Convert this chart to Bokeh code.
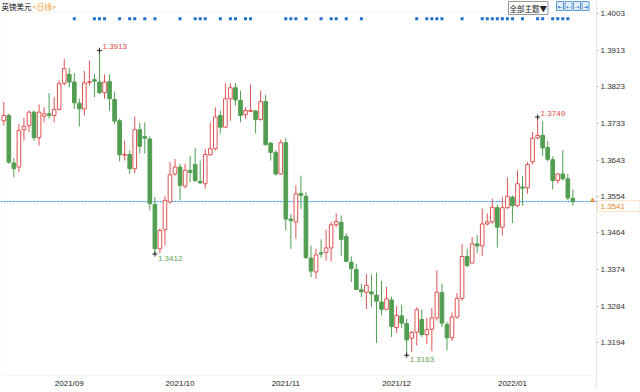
from bokeh.plotting import figure
from bokeh.models import (Range1d, FixedTicker, Label, ColumnDataSource, Span,
                          NumeralTickFormatter, BoxAnnotation)
from bokeh.embed import file_html
from bokeh.resources import INLINE

# ---- data (GBP/USD daily, 2021-08-18 .. 2022-01-24) ----
opens = [1.3740, 1.3753, 1.3636, 1.3626, 1.3718, 1.3728, 1.3761, 1.3698, 1.3751, 1.3757,
         1.3753, 1.3768, 1.3832, 1.3854, 1.3835, 1.3783, 1.3769, 1.3834, 1.3841, 1.3835,
         1.3809, 1.3836, 1.3792, 1.3740, 1.3655, 1.3657, 1.3622, 1.3718, 1.3701, 1.3695,
         1.3534, 1.3425, 1.3472, 1.3540, 1.3609, 1.3626, 1.3579, 1.3618, 1.3632, 1.3591,
         1.3585, 1.3656, 1.3671, 1.3753, 1.3724, 1.3794, 1.3821, 1.3790, 1.3755, 1.3763,
         1.3764, 1.3743, 1.3787, 1.3685, 1.3662, 1.3609, 1.3686, 1.3498, 1.3491, 1.3561,
         1.3554, 1.3402, 1.3368, 1.3415, 1.3416, 1.3427, 1.3484, 1.3490, 1.3455, 1.3392,
         1.3374, 1.3324, 1.3318, 1.3319, 1.3311, 1.3294, 1.3276, 1.3299, 1.3231, 1.3260,
         1.3241, 1.3205, 1.3220, 1.3251, 1.3214, 1.3227, 1.3255, 1.3317, 1.3239, 1.3206,
         1.3257, 1.3303, 1.3406, 1.3390, 1.3437, 1.3432, 1.3486, 1.3491, 1.3526, 1.3478,
         1.3526, 1.3552, 1.3531, 1.3577, 1.3575, 1.3639, 1.3698, 1.3704, 1.3674, 1.3644,
         1.3593, 1.3609, 1.3597, 1.3549]
highs = [1.3786, 1.3757, 1.3648, 1.3732, 1.3747, 1.3765, 1.3765, 1.3780, 1.3773, 1.3808,
         1.3798, 1.3839, 1.3892, 1.3870, 1.3857, 1.3794, 1.3862, 1.3888, 1.3855, 1.3913,
         1.3854, 1.3854, 1.3812, 1.3745, 1.3691, 1.3667, 1.3750, 1.3734, 1.3736, 1.3701,
         1.3552, 1.3475, 1.3554, 1.3638, 1.3646, 1.3634, 1.3634, 1.3654, 1.3673, 1.3642,
         1.3671, 1.3736, 1.3773, 1.3765, 1.3832, 1.3832, 1.3832, 1.3814, 1.3773, 1.3829,
         1.3766, 1.3814, 1.3804, 1.3687, 1.3668, 1.3693, 1.3698, 1.3510, 1.3581, 1.3605,
         1.3564, 1.3433, 1.3425, 1.3448, 1.3472, 1.3491, 1.3512, 1.3507, 1.3463, 1.3406,
         1.3388, 1.3339, 1.3363, 1.3361, 1.3366, 1.3346, 1.3331, 1.3307, 1.3284, 1.3287,
         1.3253, 1.3223, 1.3281, 1.3275, 1.3255, 1.3279, 1.3372, 1.3339, 1.3245, 1.3268,
         1.3316, 1.3437, 1.3425, 1.3454, 1.3459, 1.3524, 1.3512, 1.3548, 1.3534, 1.3552,
         1.3600, 1.3556, 1.3618, 1.3603, 1.3638, 1.3712, 1.3749, 1.3740, 1.3690, 1.3652,
         1.3611, 1.3667, 1.3609, 1.3571]
lows = [1.3728, 1.3634, 1.3601, 1.3613, 1.3691, 1.3712, 1.3691, 1.3679, 1.3736, 1.3745,
        1.3736, 1.3765, 1.3827, 1.3822, 1.3769, 1.3726, 1.3753, 1.3827, 1.3798, 1.3806,
        1.3794, 1.3765, 1.3732, 1.3640, 1.3642, 1.3609, 1.3611, 1.3659, 1.3659, 1.3519,
        1.3412, 1.3414, 1.3433, 1.3536, 1.3605, 1.3544, 1.3573, 1.3589, 1.3589, 1.3585,
        1.3573, 1.3654, 1.3667, 1.3709, 1.3723, 1.3740, 1.3777, 1.3736, 1.3745, 1.3761,
        1.3709, 1.3740, 1.3679, 1.3642, 1.3605, 1.3607, 1.3470, 1.3425, 1.3450, 1.3523,
        1.3400, 1.3355, 1.3351, 1.3403, 1.3396, 1.3394, 1.3478, 1.3408, 1.3392, 1.3343,
        1.3324, 1.3306, 1.3277, 1.3282, 1.3193, 1.3261, 1.3274, 1.3208, 1.3218, 1.3230,
        1.3163, 1.3171, 1.3187, 1.3208, 1.3191, 1.3173, 1.3248, 1.3232, 1.3175, 1.3198,
        1.3253, 1.3297, 1.3379, 1.3389, 1.3415, 1.3408, 1.3482, 1.3487, 1.3428, 1.3458,
        1.3523, 1.3488, 1.3527, 1.3531, 1.3561, 1.3632, 1.3695, 1.3654, 1.3640, 1.3571,
        1.3586, 1.3593, 1.3544, 1.3531]
closes = [1.3753, 1.3638, 1.3622, 1.3716, 1.3726, 1.3761, 1.3698, 1.3761, 1.3757, 1.3753,
          1.3768, 1.3831, 1.3868, 1.3835, 1.3784, 1.3769, 1.3833, 1.3836, 1.3837, 1.3809,
          1.3835, 1.3794, 1.3739, 1.3656, 1.3657, 1.3622, 1.3718, 1.3677, 1.3697, 1.3536,
          1.3425, 1.3470, 1.3544, 1.3607, 1.3626, 1.3581, 1.3618, 1.3613, 1.3593, 1.3587,
          1.3657, 1.3671, 1.3749, 1.3724, 1.3794, 1.3821, 1.3791, 1.3753, 1.3765, 1.3765,
          1.3743, 1.3787, 1.3681, 1.3662, 1.3609, 1.3686, 1.3498, 1.3494, 1.3560, 1.3556,
          1.3403, 1.3370, 1.3410, 1.3412, 1.3427, 1.3484, 1.3492, 1.3448, 1.3394, 1.3376,
          1.3325, 1.3319, 1.3335, 1.3314, 1.3296, 1.3276, 1.3302, 1.3234, 1.3261, 1.3242,
          1.3201, 1.3219, 1.3275, 1.3214, 1.3226, 1.3255, 1.3318, 1.3242, 1.3206, 1.3257,
          1.3303, 1.3406, 1.3384, 1.3437, 1.3432, 1.3486, 1.3491, 1.3527, 1.3478, 1.3526,
          1.3554, 1.3531, 1.3585, 1.3574, 1.3632, 1.3697, 1.3704, 1.3673, 1.3645, 1.3593,
          1.3609, 1.3597, 1.3550, 1.3541]

month_idx = [10, 32, 53, 75, 98]
month_labels = ["2021/09", "2021/10", "2021/11", "2021/12", "2022/01"]
price_ticks = [1.4003, 1.3913, 1.3823, 1.3733, 1.3643, 1.3554, 1.3464, 1.3374, 1.3284, 1.3194]
signal_idx = [14, 18, 19, 20, 23, 25, 26, 28, 30, 35, 38, 39, 40, 43, 45, 46, 48, 49,
              56, 57, 58, 60, 63, 65, 66, 68, 71, 82, 84, 85, 86, 87, 91, 95, 96, 97,
              98, 99, 100, 101, 103, 106, 107, 109, 110, 111, 112]
signal_level = 1.3991
mark_high_idx = [19, 106]
mark_low_idx = [30, 80]

UP = "#e25252"
DOWN = "#519e51"
FONT = "Liberation Sans"

n = len(closes)
xs = list(range(n))
inc = [c >= o for o, c in zip(opens, closes)]

def subset(mask):
    return ColumnDataSource(dict(
        x=[x for x, m in zip(xs, mask) if m],
        top=[max(o, c) for o, c, m in zip(opens, closes, mask) if m],
        bottom=[min(o, c) for o, c, m in zip(opens, closes, mask) if m],
        high=[h for h, m in zip(highs, mask) if m],
        low=[l for l, m in zip(lows, mask) if m],
    ))

src_up = subset(inc)
src_dn = subset([not v for v in inc])

# whole canvas is the frame; axes are pinned inside it
x_start, x_end = -0.655, 126.43
y_top, y_bot = 1.40357, 1.30714
x_axis_pos = 117.69          # right edge of the price area
y_area_top, y_area_bot = 1.40062, 1.31132
px_x, px_y = 1 / 5.036, 0.000246   # one pixel in data units

p = figure(width=640, height=392, output_backend="svg", toolbar_location=None,
           x_range=Range1d(x_start, x_end), y_range=Range1d(y_bot, y_top),
           y_axis_location="right", min_border=0, background_fill_color="white",
           border_fill_color="white")
p.title.visible = False
p.outline_line_color = None
p.xgrid.visible = False
p.ygrid.visible = False

# price-area border
p.add_layout(BoxAnnotation(left=x_start, right=x_axis_pos, top=y_area_top, bottom=y_area_bot,
                           fill_color=None, line_color="#e3e3e3", line_width=1))

# current price line (under the candles)
last = closes[-1]
p.add_layout(Span(location=last, dimension="width", line_color="#1e90ff",
                  line_dash="2 1", line_width=1, level="underlay"))

# candles
p.segment(x0="x", y0="high", x1="x", y1="low", source=src_up, line_color=UP, line_width=1)
p.segment(x0="x", y0="high", x1="x", y1="low", source=src_dn, line_color=DOWN, line_width=1)
p.vbar(x="x", top="top", bottom="bottom", width=0.72, source=src_up,
       fill_color="white", line_color=UP, line_width=1)
p.vbar(x="x", top="top", bottom="bottom", width=0.72, source=src_dn,
       fill_color=DOWN, line_color=DOWN, line_width=1)

# signal dots
p.scatter(x=signal_idx, y=[signal_level] * len(signal_idx), marker="square", size=3,
          fill_color="#1f6fcf", line_color=None)

# extreme marks
hx = mark_high_idx
hy = [highs[i] for i in hx]
lx = mark_low_idx
ly = [lows[i] for i in lx]
p.scatter(x=hx + lx, y=hy + ly, marker="cross", size=5, line_color="#222222", line_width=1)
p.text(x=hx, y=hy, text=[f"{v:.4f}" for v in hy], x_offset=3, y_offset=-1,
       text_baseline="bottom", text_align="left", text_color="#e2463f",
       text_font_size="8px", text_font={"value": FONT})
p.text(x=lx, y=ly, text=[f"{v:.4f}" for v in ly], x_offset=3, y_offset=2,
       text_baseline="top", text_align="left", text_color="#5f9f50",
       text_font_size="8px", text_font={"value": FONT})

# axes (pinned at the price-area edges)
ya = p.yaxis[0]
ya.fixed_location = x_axis_pos
ya.bounds = (1.3083, 1.4039)
ya.ticker = FixedTicker(ticks=price_ticks)
ya.formatter = NumeralTickFormatter(format="0.0000")
ya.axis_line_color = "#b5b5b5"
ya.axis_line_dash = "1 2"
ya.major_tick_line_color = "#b5b5b5"
ya.major_tick_out = 2
ya.major_tick_in = 0
ya.minor_tick_out = 0
ya.minor_tick_in = 0
ya.minor_tick_line_color = None
ya.major_label_standoff = 2
ya.major_label_text_font = FONT
ya.major_label_text_font_size = "8px"
ya.major_label_text_color = "#333333"

label_shift = 3
xa = p.xaxis[0]
xa.fixed_location = y_area_bot
xa.bounds = (x_start, x_axis_pos)
xa.ticker = FixedTicker(ticks=[m + label_shift for m in month_idx])
xa.major_label_overrides = {m + label_shift: t for m, t in zip(month_idx, month_labels)}
xa.axis_line_color = None
xa.major_tick_line_color = None
xa.minor_tick_line_color = None
xa.major_tick_out = 0
xa.major_tick_in = 0
xa.minor_tick_out = 0
xa.minor_tick_in = 0
xa.major_label_standoff = 3
xa.major_label_text_font = FONT
xa.major_label_text_font_size = "8px"
xa.major_label_text_color = "#222222"

# small marker at the right end of the price line
p.add_layout(Label(x=116.9, y=last, text="▲", text_baseline="bottom", text_align="center",
                   text_font="DejaVu Sans", text_font_size="6px", text_color="#f08a24"))

# current price tag
p.add_layout(BoxAnnotation(left=x_axis_pos + px_x, right=x_end - 0.6 * px_x,
                           top=last + 1.0 * px_y, bottom=last - 10.0 * px_y,
                           fill_color="white", fill_alpha=1.0, line_color="#f5a04a",
                           line_width=1))
p.add_layout(Label(x=x_axis_pos, x_offset=4, y=last, y_offset=-4.5,
                   text=f"{last:.4f}", text_baseline="middle", text_align="left",
                   text_color="#f08a24", text_font=FONT, text_font_size="8px"))

# title and toolbar-like controls (canvas units)
p.add_layout(Label(x=1, y=0, x_units="canvas", y_units="canvas", text="英镑美元",
                   text_baseline="top", text_font="Noto Sans CJK SC", text_font_size="7.5px",
                   text_color="#111111"))
p.add_layout(Label(x=32, y=0, x_units="canvas", y_units="canvas", text="<日线>",
                   text_baseline="top", text_font="Noto Sans CJK SC", text_font_size="7.5px",
                   text_color="#f39a2b"))
p.add_layout(Label(x=508, y=1, x_units="canvas", y_units="canvas", text="全部主题▼",
                   text_baseline="top", text_font="Noto Sans CJK SC", text_font_size="7.5px",
                   text_color="#222222", border_line_color="#999999",
                   background_fill_color="white", padding=1))
for bx, sym in zip([556, 564.5, 573, 581.5], ["⇤", "⇠", "⇢", "⇥"]):
    p.add_layout(Label(x=bx, y=1, x_units="canvas", y_units="canvas", text=sym,
                       text_baseline="top", text_font="DejaVu Sans", text_font_size="6px",
                       text_color="#2a73c8", border_line_color="#5a9ad8",
                       background_fill_color="#e4eef9", padding=1))

open("out.html", "w").write(file_html(p, INLINE))
